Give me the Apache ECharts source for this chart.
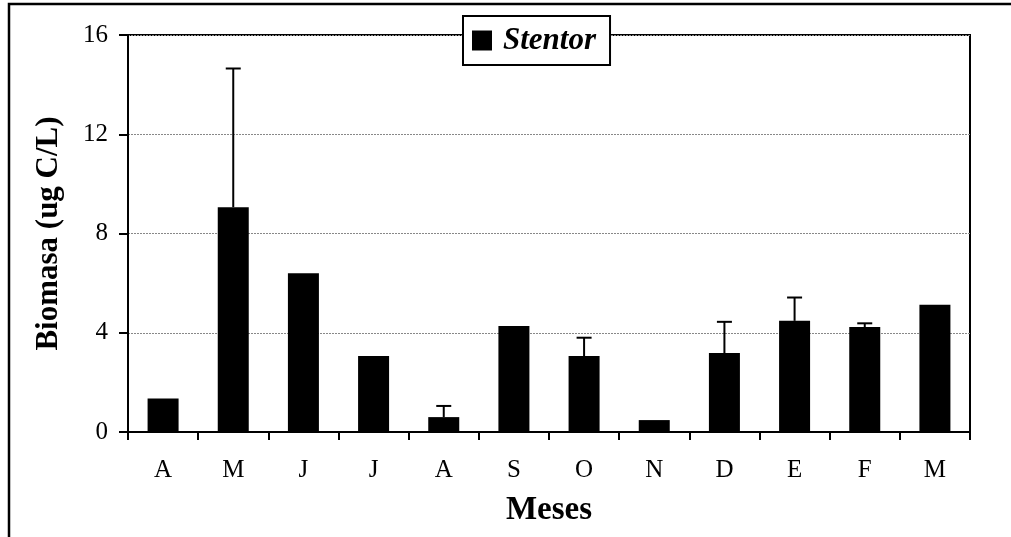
<!DOCTYPE html>
<html>
<head>
<meta charset="utf-8">
<script src="https://cdn.jsdelivr.net/npm/echarts@6/dist/echarts.min.js"></script>
<style>
html,body{margin:0;padding:0;background:#fff;}
#c{width:1011px;height:537px;}
</style>
</head>
<body>
<div id="c"></div>
<script>
// Data
var months = ['A','M','J','J','A','S','O','N','D','E','F','M'];
var biomass = [1.35, 9.06, 6.4, 3.06, 0.6, 4.27, 3.06, 0.48, 3.18, 4.48, 4.23, 5.13];
// upper error bar end (null = no error bar)
var errTop = [null, 14.65, null, null, 1.05, null, 3.8, null, 4.44, 5.42, 4.38, null];
var yTicks = [0, 4, 8, 12, 16];

var FONT = '"Liberation Serif", "Times New Roman", serif';

var errData = [];
for (var i = 0; i < months.length; i++) {
  if (errTop[i] != null) errData.push([i, biomass[i], errTop[i]]);
}

var chart = echarts.init(document.getElementById('c'));
chart.setOption({
  animation: false,
  backgroundColor: '#ffffff',
  grid: {
    left: 128, right: 41, top: 35, bottom: 105,
    show: true, borderColor: '#000', borderWidth: 2, backgroundColor: 'transparent'
  },
  legend: {
    left: 463, top: 16,
    data: ['Stentor'],
    backgroundColor: '#fff',
    borderColor: '#000',
    borderWidth: 2,
    padding: [9, 14, 9, 9],
    itemWidth: 20, itemHeight: 20,
    itemGap: 4,
    icon: 'rect',
    itemStyle: { color: '#000', borderColor: '#000', borderWidth: 0 },
    textStyle: { fontFamily: FONT, fontSize: 31, fontWeight: 'bold', fontStyle: 'italic', color: '#000', padding: [0, 0, 0, 6] },
    selectedMode: false,
    z: 10
  },
  xAxis: {
    type: 'category',
    data: months,
    boundaryGap: true,
    axisLine: { lineStyle: { color: '#000', width: 2 } },
    axisTick: { show: true, length: 8, lineStyle: { color: '#000', width: 2 }, alignWithLabel: false },
    axisLabel: { fontFamily: FONT, fontSize: 25, color: '#000', margin: 26 },
    name: 'Meses',
    nameLocation: 'middle',
    nameGap: 62,
    nameTextStyle: { fontFamily: FONT, fontSize: 33, fontWeight: 'bold', color: '#000' },
    splitLine: { show: false }
  },
  yAxis: {
    type: 'value',
    min: 0, max: 16, interval: 4,
    axisLine: { show: true, lineStyle: { color: '#000', width: 2 } },
    axisTick: { show: true, length: 9, lineStyle: { color: '#000', width: 2 } },
    axisLabel: {
      fontFamily: FONT, fontSize: 25, color: '#000', margin: 20,
      formatter: function (v) { return yTicks.indexOf(v) >= 0 ? String(v) : ''; }
    },
    splitLine: { show: true, lineStyle: { color: '#888', type: [2, 1], width: 1 } },
    name: 'Biomasa (ug C/L)',
    nameLocation: 'middle',
    nameGap: 64,
    nameTextStyle: { fontFamily: FONT, fontSize: 31, fontWeight: 'bold', color: '#000' }
  },
  series: [
    {
      name: 'Stentor',
      type: 'bar',
      data: biomass,
      barWidth: 31,
      itemStyle: { color: '#000' },
      z: 3
    },
    {
      name: 'err',
      type: 'custom',
      data: errData,
      z: 4,
      renderItem: function (params, api) {
        var x = api.value(0);
        var p0 = api.coord([x, api.value(1)]);
        var p1 = api.coord([x, api.value(2)]);
        var half = 7.5;
        return {
          type: 'group',
          children: [
            { type: 'line', shape: { x1: p0[0], y1: p0[1], x2: p1[0], y2: p1[1] }, style: { stroke: '#000', lineWidth: 2 } },
            { type: 'line', shape: { x1: p1[0] - half, y1: p1[1], x2: p1[0] + half, y2: p1[1] }, style: { stroke: '#000', lineWidth: 2 } }
          ]
        };
      }
    }
  ],
  graphic: [
    {
      type: 'rect',
      shape: { x: 9, y: 4, width: 1100, height: 700 },
      style: { fill: 'none', stroke: '#000', lineWidth: 2.5 },
      silent: true,
      z: 100
    }
  ]
});
</script>
</body>
</html>
